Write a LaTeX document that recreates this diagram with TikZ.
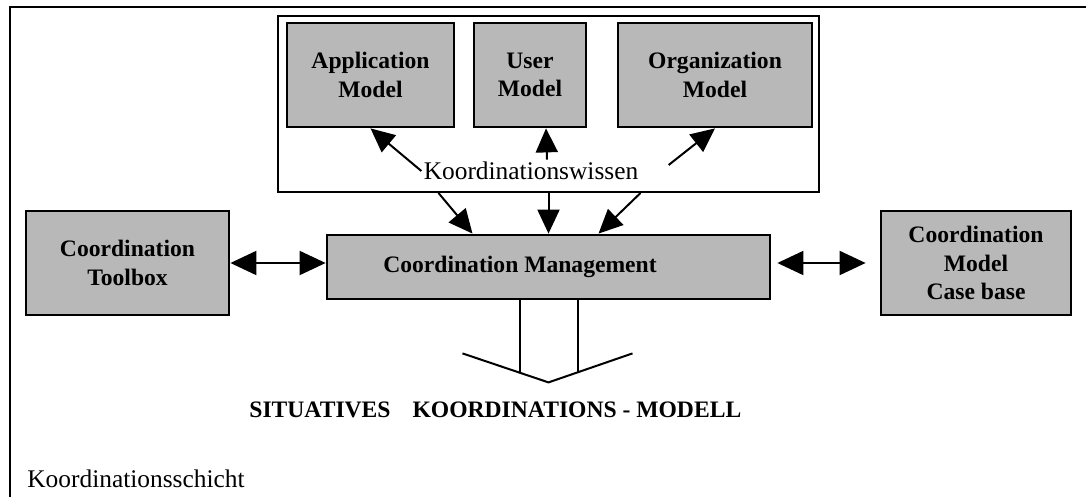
\documentclass[tikz,border=0pt]{standalone}
\usepackage{fontspec}
\setmainfont{Liberation Serif}
\usetikzlibrary{arrows.meta}
\begin{document}
\begin{tikzpicture}[x=0.5pt,y=-0.5pt,
    modelbox/.style={draw,line width=1.4pt,fill=black!28,inner sep=0pt,align=center,
      font=\fontsize{11.8}{14.3}\selectfont\bfseries},
    boldtext/.style={font=\fontsize{11.8}{14.3}\selectfont\bfseries,inner sep=0pt},
    plaintext/.style={font=\fontsize{12.7}{14}\selectfont,inner sep=1pt},
    fatarrow/.style={-{Triangle[length=12pt,width=11pt]},line width=1pt},
    botharrow/.style={{Triangle[length=13pt,width=12pt]}-{Triangle[length=13pt,width=12pt]},line width=1pt}]
    \useasboundingbox (0,0) rectangle (1086,497);
    \draw[line width=1.2pt] (10,497) -- (10,7) -- (1086,7);

    % Wissen
    \node[draw,line width=1pt,minimum width=270.5pt,minimum height=88pt,inner sep=0pt] (wissenframe) at (548.5,104) {};
    \node[modelbox,minimum width=83.5pt,minimum height=52pt] (app) at (370.5,75) {Application\\Model};
    \node[modelbox,minimum width=56pt,minimum height=52pt] (user) at (530,75) {User\\Model};
    \node[modelbox,minimum width=97pt,minimum height=52pt] (org) at (715,75) {Organization\\Model};
    \node[plaintext] (wissen) at (531,171) {Koordinationswissen};
    \draw[fatarrow] (wissen.west) -- (app.south);
    \draw[fatarrow] ([xshift=8pt]wissen.north) -- ([xshift=8pt]user.south);
    \draw[fatarrow] ([xshift=14pt,yshift=3pt]wissen.east) -- (org.south);

    % Management
    \node[modelbox,minimum width=221.5pt,minimum height=32pt] (cm) at (548.5,267) {};
    \node[boldtext,anchor=base] (cmtext) at (520,272) {Coordination Management};
    \node[modelbox,minimum width=101.5pt,minimum height=52pt] (toolbox) at (127.5,263) {Coordination\\Toolbox};
    \node[modelbox,minimum width=95pt,minimum height=52pt] (casebase) at (976,263) {Coordination\\Model\\Case base};

    \draw[fatarrow] ([xshift=-55pt]wissenframe.south) -- ([xshift=-38pt]cm.north);
    \draw[fatarrow] (wissenframe.south) -- (cm.north);
    \draw[fatarrow] ([xshift=46pt]wissenframe.south) -- ([xshift=25pt]cm.north);
    \draw[botharrow] (toolbox.east) -- (toolbox.east -| cm.west);
    \draw[botharrow,shorten <=3pt,shorten >=7pt] (cm.east |- casebase.west) -- (casebase.west);

    % Modell
    \coordinate (forktip) at ([yshift=-41pt]cm.south);
    \draw[line width=1pt] ([xshift=-14.25pt]cm.south) -- ++(0,72);
    \draw[line width=1pt] ([xshift=14.75pt]cm.south) -- ++(0,72);
    \draw[line width=1pt] (forktip) ++(-86,-29) -- (forktip) -- ++(84,-29);
    \node[boldtext,anchor=base west] (modell) at (249,417) {SITUATIVES\hspace{11pt}KOORDINATIONS - MODELL};
    \node[plaintext,anchor=base west,inner sep=0pt] (schicht) at (27,487) {Koordinationsschicht};
\end{tikzpicture}
\end{document}
